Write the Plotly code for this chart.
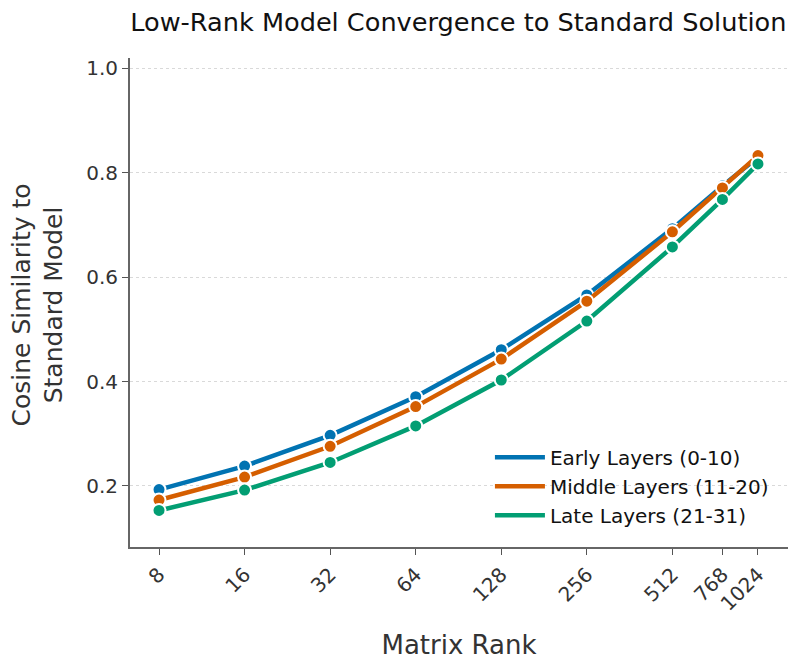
import plotly.graph_objects as go

ranks = [8, 16, 32, 64, 128, 256, 512, 768, 1024]
tick_labels = ["8", "16", "32", "64", "128", "256", "512", "768", "1024"]
early = [0.193, 0.238, 0.297, 0.371, 0.461, 0.566, 0.693, 0.775, 0.830]
middle = [0.173, 0.217, 0.276, 0.352, 0.443, 0.554, 0.687, 0.771, 0.833]
late = [0.153, 0.192, 0.245, 0.315, 0.403, 0.516, 0.658, 0.749, 0.817]

series = [
    ("Early Layers (0-10)", early, "#0173b2"),
    ("Middle Layers (11-20)", middle, "#d55e00"),
    ("Late Layers (21-31)", late, "#029e73"),
]

fig = go.Figure()
for name, vals, color in series:
    fig.add_trace(go.Scatter(
        x=ranks, y=vals, name=name, mode="lines+markers", showlegend=False,
        line=dict(color=color, width=4.5),
        marker=dict(size=13, color=color, line=dict(color="white", width=2)),
    ))
for name, vals, color in series:
    fig.add_trace(go.Scatter(
        x=[None], y=[None], name=name, mode="lines",
        line=dict(color=color, width=4.5), showlegend=True,
    ))

axis_font = dict(family="DejaVu Sans", size=20, color="#333333")
fig.update_layout(
    width=790, height=658,
    margin=dict(l=122, r=10, t=50, b=119),
    plot_bgcolor="white", paper_bgcolor="white",
    font=dict(family="DejaVu Sans", color="#222222"),
    title=dict(text="Low-Rank Model Convergence to Standard Solution",
               x=0.570, xanchor="center", y=0.979, yanchor="middle",
               font=dict(size=25.6, color="#111111")),
    legend=dict(x=0.547, y=0.025, xanchor="left", yanchor="bottom",
                bgcolor="rgba(255,255,255,0)", font=dict(size=20, color="#111111"),
                tracegroupgap=0, itemwidth=50),
    showlegend=True,
)
fig.add_annotation(
    text="Cosine Similarity to<br>Standard Model", textangle=-90,
    xref="paper", yref="paper", x=-0.1405, y=0.495, xanchor="center", yanchor="middle",
    showarrow=False, font=dict(family="DejaVu Sans", size=25, color="#333333"),
)
fig.update_xaxes(
    type="log", range=[0.801, 3.116], automargin=False,
    tickvals=ranks, ticktext=tick_labels, tickangle=-45,
    tickfont=axis_font, ticks="outside", ticklen=6, tickcolor="#555555",
    showline=True, linecolor="#666666", linewidth=2, showgrid=False, zeroline=False,
    title=dict(text="Matrix Rank", font=dict(size=26, color="#333333"), standoff=21),
)
fig.update_yaxes(
    range=[0.083, 1.02], automargin=False,
    tickvals=[0.2, 0.4, 0.6, 0.8, 1.0], ticktext=["0.2", "0.4", "0.6", "0.8", "1.0"],
    tickfont=axis_font, ticks="outside", ticklen=6, tickcolor="#555555",
    showline=True, linecolor="#666666", linewidth=2,
    showgrid=True, gridcolor="#d9d9d9", griddash="dot", gridwidth=0.8, zeroline=False,
)
fig.write_html("out.html")
